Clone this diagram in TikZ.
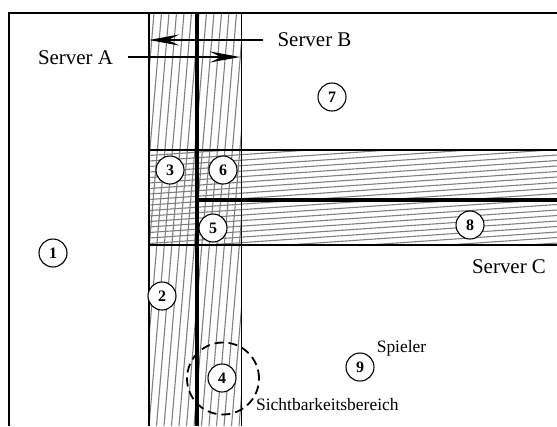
\documentclass[tikz,border=0pt]{standalone}
\usepackage{fontspec}
\setmainfont{Liberation Serif}
\usetikzlibrary{arrows.meta}
\begin{document}
\begin{tikzpicture}[x=1bp,y=-1bp,
  hatch/.style={draw=black!50,line width=1.1bp},
  edgeline/.style={line width=1.3bp},
  wall/.style={line width=4bp},
  frameline/.style={line width=2bp},
  num/.style={circle,draw,line width=1.1bp,fill=white,minimum size=28bp,inner sep=0pt,font=\fontsize{16}{16}\selectfont\bfseries},
  lbl/.style={font=\fontsize{21}{21}\selectfont,inner sep=0pt},
  slbl/.style={font=\fontsize{17.5}{17.5}\selectfont,inner sep=0pt},
  arr/.style={line width=1.3bp,-{Stealth[length=30bp,width=11bp,inset=11bp]}},
  viewarea/.style={draw,line width=1.8bp,dash pattern=on 9bp off 5bp}]
\useasboundingbox (0,0) rectangle (557,426);
% hatching of the vertical band
\begin{scope}
  \clip (149,13) rectangle (241.5,426);
  \foreach \i in {-6,...,14} \draw[hatch] (149+7.5*\i,426) -- (149+7.5*\i+35,13);
\end{scope}
% hatching of the horizontal band
\begin{scope}
  \clip (149,150) rectangle (557,245);
  \foreach \j in {0,...,24} \draw[hatch] (149,150+5.5*\j) -- (557,150+5.5*\j-28);
\end{scope}
% frame
\draw[frameline] (9,426) -- (9,13) -- (557,13);
% band borders
\draw[edgeline] (149,13) -- (149,426);
\draw[edgeline] (241.5,13) -- (241.5,426);
\draw[edgeline] (149,150) -- (557,150);
\draw[edgeline] (149,245) -- (557,245);
% thick walls
\draw[wall] (197,13) -- (197,426);
\draw[wall] (197,199.5) -- (557,199.5);
% numbered regions
\node[num] (n1) at (53,253) {1};
\node[num] (n2) at (162,296) {2};
\node[num] (n3) at (170,170) {3};
\node[num] (n4) at (222,378) {4};
\node[num] (n5) at (213,228) {5};
\node[num] (n6) at (223,170) {6};
\node[num] (n7) at (332,97) {7};
\node[num] (n8) at (470,225) {8};
\node[num] (n9) at (360,367) {9};
% visibility area
\node[viewarea,circle,minimum size=72bp,inner sep=0pt] (sicht) at (223,378.5) {};
% labels
\node[lbl,anchor=base] (sa) at (75.5,64) {Server A};
\node[lbl,anchor=base] (sb) at (314.5,46) {Server B};
\node[lbl,anchor=base] (sc) at (509,273) {Server C};
\node[slbl,anchor=base] (sp) at (401.5,352) {Spieler};
\node[slbl,anchor=base west] (sbb) at (256,410) {Sichtbarkeitsbereich};
% arrows
\coordinate (aend) at (240,57);
\coordinate (bend) at (149,40);
\draw[arr] (sa.east |- aend) ++(15,0) -- (aend);
\draw[arr] (sb.west |- bend) ++(-14,0) -- (bend);
\end{tikzpicture}
\end{document}
